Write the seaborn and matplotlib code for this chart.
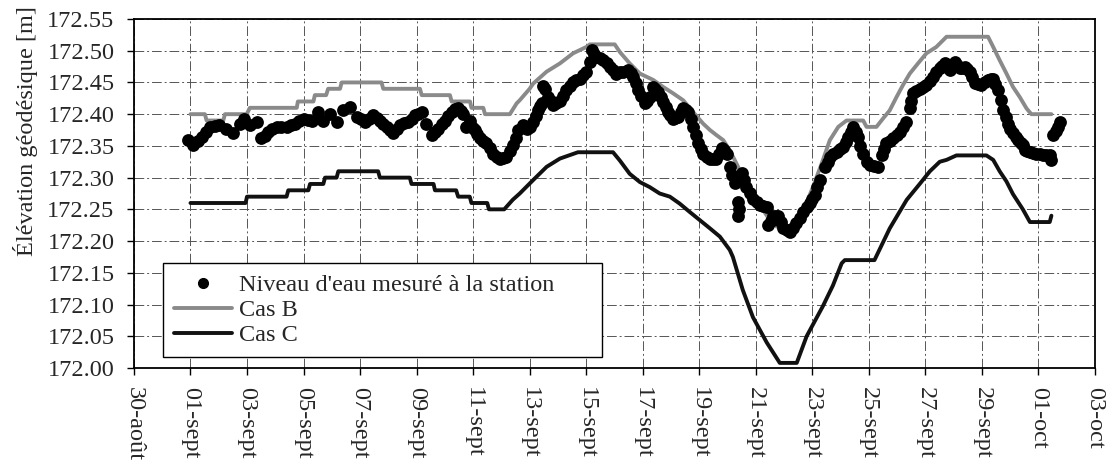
import numpy as np
import pandas as pd
import matplotlib
matplotlib.use("Agg")
import matplotlib.pyplot as plt
import seaborn as sns

# ---------------- data (days after 30-août) ----------------
tick_days = list(range(0, 35, 2))
tick_labels = ["30-août", "01-sept", "03-sept", "05-sept", "07-sept", "09-sept",
               "11-sept", "13-sept", "15-sept", "17-sept", "19-sept", "21-sept",
               "23-sept", "25-sept", "27-sept", "29-sept", "01-oct", "03-oct"]
y_ticks = [172.00, 172.05, 172.10, 172.15, 172.20, 172.25, 172.30, 172.35,
           172.40, 172.45, 172.50, 172.55]

casB_day = [2.0, 2.51, 2.57, 3.16, 3.22, 3.99, 4.1, 5.76, 5.8, 6.35, 6.4, 6.8, 6.87, 7.29,
            7.35, 8.76, 8.82, 10.12, 10.18, 11.18, 11.24, 11.89, 11.94, 12.36, 12.42, 13.3,
            13.54, 13.65, 14.0, 14.12, 14.6, 15.07, 15.54, 16.01, 16.13, 17.01, 17.19, 17.54,
            17.9, 18.37, 18.72, 19.07, 19.43, 19.79, 20.14, 20.38, 20.61, 20.85, 21.08, 21.32,
            21.56, 21.79, 22.03, 22.26, 22.5, 22.74, 23.09, 23.44, 23.74, 24.03, 24.33, 24.62,
            24.92, 25.21, 25.8, 25.92, 26.27, 26.5, 26.74, 26.98, 27.21, 27.45, 27.74, 28.04,
            28.39, 28.75, 30.22, 30.4, 30.63, 30.87, 31.1, 31.34, 31.58, 31.75, 32.46]
casB_val = [172.40, 172.40, 172.39, 172.39, 172.40, 172.40, 172.41, 172.41, 172.42, 172.42,
            172.43, 172.43, 172.44, 172.44, 172.45, 172.45, 172.44, 172.44, 172.43, 172.43,
            172.42, 172.42, 172.41, 172.41, 172.40, 172.40, 172.417, 172.422, 172.44, 172.448,
            172.467, 172.48, 172.496, 172.506, 172.51, 172.51, 172.498, 172.48, 172.464,
            172.454, 172.443, 172.433, 172.422, 172.403, 172.385, 172.375, 172.367, 172.359,
            172.343, 172.322, 172.30, 172.28, 172.265, 172.249, 172.233, 172.223, 172.218,
            172.228, 172.254, 172.286, 172.322, 172.359, 172.38, 172.39, 172.39, 172.38,
            172.38, 172.393, 172.406, 172.427, 172.446, 172.464, 172.48, 172.496, 172.506,
            172.522, 172.522, 172.506, 172.485, 172.464, 172.443, 172.427, 172.409, 172.40,
            172.40]

casC_day = [2.0, 3.95, 4.0, 5.4, 5.46, 6.17, 6.23, 6.7, 6.76, 7.17, 7.23, 8.64, 8.7, 9.76,
            9.82, 10.6, 10.65, 11.4, 11.47, 11.88, 11.94, 12.5, 12.56, 13.1, 13.4, 13.65,
            14.12, 14.6, 15.07, 15.71, 16.95, 17.19, 17.54, 17.9, 18.25, 18.6, 18.96, 19.31,
            19.66, 20.02, 20.38, 20.73, 21.08, 21.19, 21.54, 21.9, 22.39, 22.85, 23.45, 23.8,
            24.37, 24.73, 25.04, 25.15, 26.2, 26.74, 27.34, 27.8, 28.16, 28.51, 28.75, 29.1,
            30.16, 30.4, 30.63, 30.87, 31.1, 31.45, 31.7, 32.4, 32.46]
casC_val = [172.26, 172.26, 172.27, 172.27, 172.28, 172.28, 172.29, 172.29, 172.30, 172.30,
            172.31, 172.31, 172.30, 172.30, 172.29, 172.29, 172.28, 172.28, 172.27, 172.27,
            172.26, 172.26, 172.25, 172.25, 172.265, 172.275, 172.296, 172.317, 172.33,
            172.34, 172.34, 172.327, 172.306, 172.293, 172.285, 172.275, 172.27, 172.259,
            172.246, 172.233, 172.22, 172.207, 172.186, 172.175, 172.123, 172.08, 172.04,
            172.008, 172.008, 172.05, 172.097, 172.13, 172.165, 172.17, 172.17, 172.22,
            172.265, 172.29, 172.31, 172.325, 172.328, 172.335, 172.335, 172.328, 172.31,
            172.294, 172.274, 172.25, 172.23, 172.23, 172.24]

mes_day = [1.92, 2.1, 2.25, 2.4, 2.55, 2.7, 2.85, 3.0, 3.25, 3.5, 3.75, 3.9, 4.1, 4.35, 4.5,
           4.62, 4.75, 4.9, 5.05, 5.2, 5.4, 5.55, 5.7, 5.85, 6.0, 6.15, 6.3, 6.5, 6.7, 6.95,
           7.2, 7.4, 7.65, 7.88, 8.02, 8.17, 8.32, 8.47, 8.6, 8.7, 8.82, 8.94, 9.05, 9.17,
           9.3, 9.41, 9.55, 9.7, 9.82, 9.94, 10.06, 10.18, 10.35, 10.53, 10.65, 10.77, 10.9,
           11.0, 11.12, 11.24, 11.35, 11.47, 11.56, 11.65, 11.74, 11.88, 12.0, 12.06, 12.15,
           12.24, 12.35, 12.47, 12.6, 12.71, 12.83, 12.95, 13.06, 13.18, 13.3, 13.42, 13.52,
           13.6, 13.77, 13.89, 14.0, 14.12, 14.22, 14.3, 14.38, 14.42, 14.48, 14.53, 14.65,
           14.74, 14.83, 14.95, 15.07, 15.18, 15.3, 15.42, 15.54, 15.65, 15.77, 15.9, 16.01,
           16.13, 16.19, 16.28, 16.36, 16.48, 16.6, 16.72, 16.83, 16.95, 17.07, 17.18, 17.3,
           17.48, 17.57, 17.66, 17.75, 17.84, 17.95, 18.07, 18.15, 18.25, 18.37, 18.45,
           18.54, 18.63, 18.72, 18.81, 18.9, 18.98, 19.07, 19.16, 19.25, 19.34, 19.43, 19.52,
           19.6, 19.7, 19.78, 19.87, 19.96, 20.05, 20.14, 20.26, 20.38, 20.5, 20.61, 20.7,
           20.79, 20.88, 20.97, 21.08, 21.17, 21.26, 21.38, 21.40, 21.38, 21.5, 21.58, 21.67,
           21.79, 21.91, 22.03, 22.15, 22.27, 22.38, 22.44, 22.53, 22.62, 22.71, 22.8, 22.88,
           22.97, 23.09, 23.21, 23.32, 23.44, 23.56, 23.68, 23.8, 23.91, 24.0, 24.09, 24.18,
           24.27, 24.45, 24.54, 24.62, 24.74, 24.86, 24.97, 25.09, 25.18, 25.27, 25.36, 25.45,
           25.53, 25.62, 25.7, 25.8, 25.92, 26.03, 26.18, 26.33, 26.45, 26.53, 26.62, 26.74,
           26.86, 26.98, 27.1, 27.22, 27.33, 27.45, 27.5, 27.57, 27.68, 27.8, 27.92, 28.04,
           28.15, 28.27, 28.39, 28.51, 28.6, 28.69, 28.77, 28.86, 28.95, 29.04, 29.13, 29.22,
           29.31, 29.4, 29.48, 29.57, 29.66, 29.75, 29.86, 29.98, 30.1, 30.22, 30.31, 30.4,
           30.48, 30.57, 30.66, 30.75, 30.84, 30.93, 31.01, 31.1, 31.19, 31.28, 31.37, 31.46,
           31.52, 31.6, 31.7, 31.81, 31.93, 32.05, 32.17, 32.28, 32.4, 32.46, 32.52, 32.61,
           32.7, 32.78]
mes_val = [172.359, 172.351, 172.357, 172.364, 172.372, 172.380, 172.382, 172.383, 172.377,
           172.370, 172.385, 172.392, 172.383, 172.388, 172.362, 172.366, 172.372, 172.376,
           172.380, 172.380, 172.380, 172.383, 172.385, 172.389, 172.393, 172.391, 172.390,
           172.404, 172.390, 172.401, 172.388, 172.406, 172.411, 172.396, 172.392, 172.388,
           172.393, 172.398, 172.394, 172.390, 172.385, 172.380, 172.375, 172.370, 172.377,
           172.383, 172.386, 172.388, 172.393, 172.398, 172.401, 172.404, 172.385, 172.367,
           172.372, 172.377, 172.384, 172.390, 172.397, 172.404, 172.408, 172.410, 172.405,
           172.401, 172.380, 172.390, 172.378, 172.375, 172.368, 172.362, 172.358, 172.354,
           172.346, 172.338, 172.333, 172.330, 172.331, 172.333, 172.342, 172.351, 172.363,
           172.375, 172.383, 172.377, 172.380, 172.388, 172.397, 172.406, 172.413, 172.417,
           172.445, 172.440, 172.427, 172.420, 172.414, 172.417, 172.420, 172.429, 172.438,
           172.445, 172.451, 172.454, 172.456, 172.461, 172.467, 172.483, 172.501, 172.495,
           172.490, 172.488, 172.485, 172.480, 172.475, 172.470, 172.464, 172.466, 172.467,
           172.469, 172.465, 172.459, 172.449, 172.438, 172.428, 172.417, 172.420, 172.427,
           172.443, 172.440, 172.435, 172.427, 172.419, 172.411, 172.404, 172.398, 172.393,
           172.394, 172.396, 172.403, 172.409, 172.406, 172.404, 172.393, 172.380, 172.367,
           172.354, 172.345, 172.338, 172.333, 172.330, 172.330, 172.330, 172.338, 172.346,
           172.343, 172.338, 172.317, 172.304, 172.291, 172.262, 172.250, 172.240, 172.307,
           172.296, 172.286, 172.276, 172.267, 172.262, 172.257, 172.255, 172.254, 172.225,
           172.232, 172.239, 172.239, 172.239, 172.230, 172.220, 172.217, 172.215, 172.220,
           172.228, 172.237, 172.246, 172.253, 172.260, 172.266, 172.273, 172.285, 172.296,
           172.317, 172.325, 172.333, 172.337, 172.341, 172.345, 172.349, 172.356, 172.364,
           172.372, 172.380, 172.372, 172.364, 172.350, 172.338, 172.325, 172.320, 172.318,
           172.317, 172.336, 172.345, 172.354, 172.358, 172.362, 172.367, 172.372, 172.380,
           172.388, 172.410, 172.420, 172.433, 172.437, 172.440, 172.443, 172.446, 172.452,
           172.459, 172.466, 172.472, 172.476, 172.480, 172.475, 172.470, 172.476, 172.483,
           172.478, 172.472, 172.473, 172.475, 172.471, 172.467, 172.458, 172.449, 172.447,
           172.446, 172.450, 172.454, 172.455, 172.456, 172.447, 172.438, 172.422, 172.406,
           172.395, 172.385, 172.377, 172.370, 172.364, 172.359, 172.355, 172.351, 172.343,
           172.342, 172.341, 172.339, 172.338, 172.337, 172.336, 172.336, 172.336, 172.328,
           172.367, 172.374, 172.380, 172.388]

# ---------------- plot ----------------
sns.set_theme(style="white")
plt.rcParams['font.family'] = ['Liberation Serif', 'DejaVu Serif']
plt.rcParams['font.size'] = 17

fig = plt.figure(figsize=(11.07, 4.69), dpi=100)
ax = fig.add_axes([0.121, 0.2154, 0.8681, 0.7441])

dfB = pd.DataFrame({"day": casB_day, "val": casB_val})
dfC = pd.DataFrame({"day": casC_day, "val": casC_val})
dfM = pd.DataFrame({"day": mes_day, "val": mes_val})

sns.lineplot(data=dfB, x="day", y="val", ax=ax, color="#8a8a8a", lw=2.8,
             estimator=None, sort=False, zorder=3, legend=False)
sns.lineplot(data=dfC, x="day", y="val", ax=ax, color="#111111", lw=2.8,
             estimator=None, sort=False, zorder=3, legend=False)
sns.scatterplot(data=dfM, x="day", y="val", ax=ax, color="black", s=85,
                linewidth=0, zorder=4, legend=False)

ax.set_xlim(0, 34)
ax.set_ylim(172.00, 172.55)
ax.set_xticks(tick_days)
ax.set_xticklabels(tick_labels, rotation=-90, fontsize=17.5)
ax.set_yticks(y_ticks)
ax.set_yticklabels([f"{v:.2f}" for v in y_ticks], fontsize=17.5)
ax.set_xlabel("")
ax.set_ylabel("Élévation géodésique [m]", fontsize=17.5)
ax.yaxis.set_label_coords(-0.100, 0.68)

ax.grid(True, color="#555555", linestyle=(0, (10, 3, 2, 3)), linewidth=0.7)
ax.set_axisbelow(True)
ax.tick_params(axis="both", direction="out", length=5, width=1, color="black",
               pad=9, left=True, bottom=True)
for sp in ax.spines.values():
    sp.set_color("black")
    sp.set_linewidth(1.3)

from matplotlib.lines import Line2D
handles = [Line2D([], [], marker="o", color="black", linestyle="none", markersize=7),
           Line2D([], [], color="#8a8a8a", lw=2.8),
           Line2D([], [], color="#111111", lw=2.8)]
labels = ["Niveau d'eau mesuré à la station", "Cas B", "Cas C"]
leg = ax.legend(handles, labels, loc="lower left",
                bbox_to_anchor=(0.030, 0.0315, 0.457, 0.272), mode="expand",
                frameon=True, fancybox=False, edgecolor="black", framealpha=1,
                fontsize=17.5, handlelength=2.4, handletextpad=0.3,
                borderpad=0.45, labelspacing=0.12, borderaxespad=0)
leg.get_frame().set_linewidth(1.0)
leg.set_zorder(6)

fig.savefig("out.png", dpi=100)
